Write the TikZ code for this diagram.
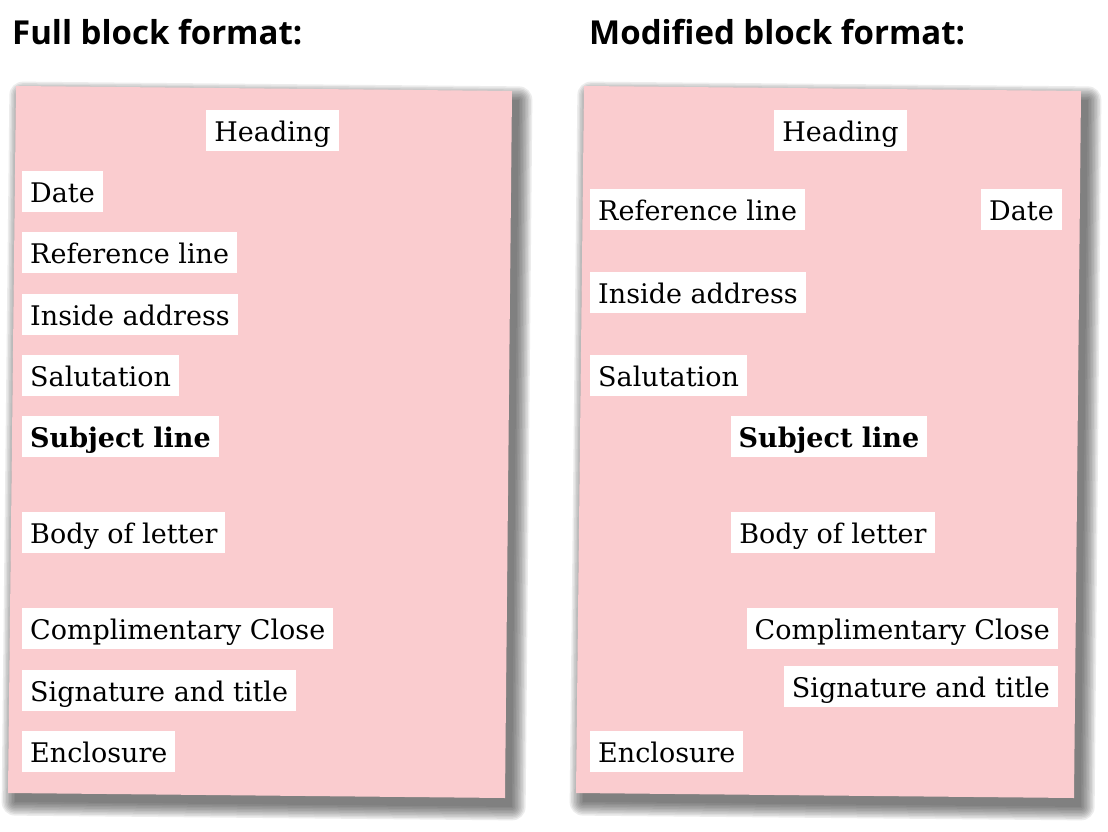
\documentclass[tikz,border=0pt]{standalone}
\usepackage{fontspec}
\usetikzlibrary{calc}
\newfontfamily\titlefont{Open Sans}
\newfontfamily\labelfont{DejaVu Serif}
\definecolor{paperpink}{RGB}{250,204,207}
\definecolor{papershade}{RGB}{55,55,55}

% soft shadow behind a sheet given by its four corners (TL, TR, BR, BL)
\newcommand\sheetshadow[4]{%
  \foreach \d in {0,1.5,...,13.5} {
    \fill[papershade, opacity=0.09, rounded corners=\d pt]
      ($(#1)+(7-\d,9-\d)$) -- ($(#2)+(7+\d,9-\d)$) --
      ($(#3)+(7+\d,9+\d)$) -- ($(#4)+(7-\d,9+\d)$) -- cycle;
  }}

\newcommand\partsize{\fontsize{27}{32}\selectfont}

\tikzset{
  heading/.style={font=\titlefont\bfseries\fontsize{33}{38}\selectfont, inner sep=0pt, anchor=base west},
  part/.style={fill=white, font=\labelfont\partsize,
    inner xsep=8pt, inner ysep=0pt, text height=31pt, text depth=10pt},
  boldpart/.style={part, font=\labelfont\bfseries\partsize},
  sheet/.style={fill=paperpink},
}

\begin{document}
\begin{tikzpicture}[x=1pt, y=-1pt]
\useasboundingbox[fill=white] (0,0) rectangle (1108,832);

% titles
\node[heading] (t1) at (12,45) {Full block format:};
\node[heading] (t2) at (589,45) {Modified block format:};

% sheet corners
\coordinate (aTL) at (16,86);  \coordinate (aTR) at (512,91);
\coordinate (aBR) at (505,798); \coordinate (aBL) at (8,793);
\coordinate (bTL) at (584,86); \coordinate (bTR) at (1081,91);
\coordinate (bBR) at (1074,798); \coordinate (bBL) at (576,793);

% sheets with shadows
\sheetshadow{aTL}{aTR}{aBR}{aBL}
\sheetshadow{bTL}{bTR}{bBR}{bBL}
\fill[sheet] (aTL) -- (aTR) -- (aBR) -- (aBL) -- cycle;
\fill[sheet] (bTL) -- (bTR) -- (bBR) -- (bBL) -- cycle;

% full block format: everything flush left
\node[part, anchor=north] (fHead) at (272.5,110) {Heading};
\node[part, anchor=north west] (fDate) at (22,171) {Date};
\node[part, anchor=north west] (fRef) at (22,232) {Reference line};
\node[part, anchor=north west] (fAddr) at (22,294) {Inside address};
\node[part, anchor=north west] (fSal) at (22,355) {Salutation};
\node[boldpart, anchor=north west] (fSubj) at (22,416) {Subject line};
\node[part, anchor=north west] (fBody) at (22,512) {Body of letter};
\node[part, anchor=north west] (fClose) at (22,608) {Complimentary Close};
\node[part, anchor=north west] (fSig) at (22,670) {Signature and title};
\node[part, anchor=north west] (fEncl) at (22,731) {Enclosure};

% modified block format
\node[part, anchor=north] (mHead) at (840.5,110) {Heading};
\node[part, anchor=north west] (mRef) at (590,189) {Reference line};
\node[part, anchor=north east] (mDate) at (1062,189) {Date};
\node[part, anchor=north west] (mAddr) at (590,272) {Inside address};
\node[part, anchor=north west] (mSal) at (590,355) {Salutation};
\node[boldpart, anchor=north] (mSubj) at (829,416) {Subject line};
\node[part, anchor=north] (mBody) at (833,512) {Body of letter};
\node[part, anchor=north east] (mClose) at (1058,608) {Complimentary Close};
\node[part, anchor=north east] (mSig) at (1058,666) {Signature and title};
\node[part, anchor=north west] (mEncl) at (590,731) {Enclosure};
\end{tikzpicture}
\end{document}
